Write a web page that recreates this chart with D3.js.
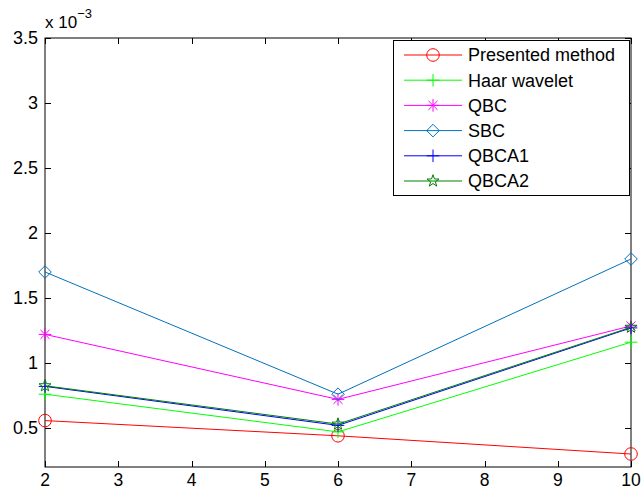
<!DOCTYPE html>
<html>
<head>
<meta charset="utf-8">
<script src="https://cdn.jsdelivr.net/npm/d3@7"></script>
<style>
  html, body { margin: 0; padding: 0; background: #fff; }
  svg { display: block; }
  text { font-family: "Liberation Sans", Arial, Helvetica, sans-serif; fill: #000; }
</style>
</head>
<body>
<svg id="chart" width="641" height="490"></svg>
<script>
// Data (values in units of 10^-3)
const xValues = [2, 6, 10];
const presented = [0.557, 0.44, 0.30];
const haar = [0.76, 0.47, 1.16];
const qbc = [1.22, 0.72, 1.285];
const sbc = [1.70, 0.76, 1.80];
const qbca1 = [0.82, 0.52, 1.27];
const qbca2 = [0.825, 0.53, 1.275];
const seriesNames = ["Presented method", "Haar wavelet", "QBC", "SBC", "QBCA1", "QBCA2"];
const xTicks = [2, 3, 4, 5, 6, 7, 8, 9, 10];
const yTicks = [0.5, 1, 1.5, 2, 2.5, 3, 3.5];
const yDomain = [0.2, 3.5];
const xDomain = [2, 10];

const series = [
  { name: seriesNames[0], values: presented, color: "#ff0000", marker: "circle" },
  { name: seriesNames[1], values: haar, color: "#00ff00", marker: "plus" },
  { name: seriesNames[2], values: qbc, color: "#ff00ff", marker: "asterisk" },
  { name: seriesNames[3], values: sbc, color: "#0072bd", marker: "diamond" },
  { name: seriesNames[4], values: qbca1, color: "#0000ff", marker: "plus" },
  { name: seriesNames[5], values: qbca2, color: "#008000", marker: "star" }
];

const L = 45, R = 631, T = 38, B = 467;
const svg = d3.select("#chart");
const x = d3.scaleLinear().domain(xDomain).range([L, R]);
const y = d3.scaleLinear().domain(yDomain).range([B, T]);

function markerPath(type, s) {
  const p = d3.path();
  if (type === "circle") {
    p.moveTo(s, 0); p.arc(0, 0, s, 0, 2 * Math.PI);
  } else if (type === "plus") {
    p.moveTo(-s, 0); p.lineTo(s, 0); p.moveTo(0, -s); p.lineTo(0, s);
  } else if (type === "asterisk") {
    p.moveTo(-s, 0); p.lineTo(s, 0); p.moveTo(0, -s); p.lineTo(0, s);
    const d = s * 0.72;
    p.moveTo(-d, -d); p.lineTo(d, d); p.moveTo(-d, d); p.lineTo(d, -d);
  } else if (type === "diamond") {
    p.moveTo(0, -s); p.lineTo(s, 0); p.lineTo(0, s); p.lineTo(-s, 0); p.closePath();
  } else if (type === "star") {
    const ro = s, ri = s * 0.4;
    for (let i = 0; i < 10; i++) {
      const r = i % 2 === 0 ? ro : ri;
      const a = -Math.PI / 2 + i * Math.PI / 5;
      const px = r * Math.cos(a), py = r * Math.sin(a);
      if (i === 0) p.moveTo(px, py); else p.lineTo(px, py);
    }
    p.closePath();
  }
  return p.toString();
}

// Axes box
svg.append("rect").attr("x", L).attr("y", T).attr("width", R - L).attr("height", B - T)
  .attr("fill", "#fff").attr("stroke", "#000").attr("stroke-width", 1);

const tl = 6;
// x ticks (bottom, inward) and top
const gx = svg.append("g");
xTicks.forEach(t => {
  const px = Math.round(x(t)) + 0.5;
  gx.append("line").attr("x1", px).attr("x2", px).attr("y1", B).attr("y2", B - tl).attr("stroke", "#000");
  gx.append("line").attr("x1", px).attr("x2", px).attr("y1", T).attr("y2", T + tl).attr("stroke", "#000");
  gx.append("text").attr("x", x(t)).attr("y", 485.5).attr("text-anchor", "middle")
    .attr("font-size", 17.5).text(t);
});
// y ticks
const gy = svg.append("g");
yTicks.forEach(t => {
  const py = Math.round(y(t)) + 0.5;
  gy.append("line").attr("x1", L).attr("x2", L + tl).attr("y1", py).attr("y2", py).attr("stroke", "#000");
  gy.append("line").attr("x1", R).attr("x2", R - tl).attr("y1", py).attr("y2", py).attr("stroke", "#000");
  gy.append("text").attr("x", L - 7).attr("y", y(t)).attr("dy", "0.36em").attr("text-anchor", "end")
    .attr("font-size", 18).text(t);
});
// exponent label
const ex = svg.append("text").attr("x", L).attr("y", 28).attr("font-size", 17);
ex.append("tspan").text("x 10");
ex.append("tspan").attr("dy", -10).attr("font-size", 13).text("−3");

// Lines and markers
const line = d3.line().x((d, i) => x(xValues[i])).y(d => y(d));
const plot = svg.append("g");
series.forEach(s => {
  plot.append("path").attr("d", line(s.values)).attr("fill", "none")
    .attr("stroke", s.color).attr("stroke-width", 1);
  s.values.forEach((v, i) => {
    plot.append("path").attr("d", markerPath(s.marker, 6.3))
      .attr("transform", `translate(${x(xValues[i])},${y(v)})`)
      .attr("fill", "none").attr("stroke", s.color).attr("stroke-width", 1);
  });
});

// Legend
const lg = svg.append("g");
lg.append("rect").attr("x", 393.5).attr("y", 40.5).attr("width", 236).attr("height", 155)
  .attr("fill", "#fff").attr("stroke", "#000").attr("stroke-width", 1);
series.forEach((s, i) => {
  const ry = 55 + i * 25.2;
  lg.append("line").attr("x1", 404).attr("x2", 462).attr("y1", ry).attr("y2", ry)
    .attr("stroke", s.color).attr("stroke-width", 1);
  lg.append("path").attr("d", markerPath(s.marker, 6.3)).attr("transform", `translate(433,${ry})`)
    .attr("fill", "none").attr("stroke", s.color).attr("stroke-width", 1);
  lg.append("text").attr("x", 468).attr("y", ry).attr("dy", "0.36em").attr("font-size", 18).text(s.name);
});
</script>
</body>
</html>
